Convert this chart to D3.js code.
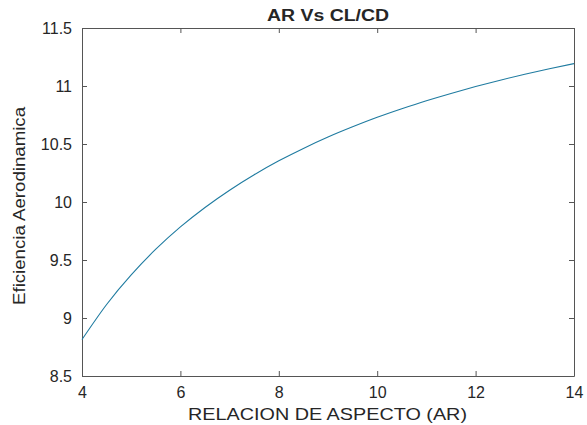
<!DOCTYPE html>
<html>
<head>
<meta charset="utf-8">
<script src="https://cdn.jsdelivr.net/npm/d3@7"></script>
<style>
  body { margin: 0; background: #fff; }
  text { font-family: "Liberation Sans", Arial, sans-serif; fill: #262626; }
</style>
</head>
<body>
<div class="canvas"></div>
<script>
// aspect ratio values and the efficiency
const aspectRatio = [4, 4.5, 5, 5.5, 6, 6.5, 7, 7.5, 8, 8.5, 9, 9.5, 10, 10.5, 11, 11.5, 12, 12.5, 13, 13.5, 14]
const efficiency = [8.814, 9.116, 9.372, 9.593, 9.785, 9.953, 10.102, 10.235, 10.355, 10.462, 10.560, 10.648, 10.730, 10.804, 10.873, 10.936, 10.995, 11.050, 11.101, 11.148, 11.193]

const xTicks = [4, 6, 8, 10, 12, 14]
const yTicks = [8.5, 9, 9.5, 10, 10.5, 11, 11.5]

const dims = { width: 587, height: 425 }
const margin = { top: 28, right: 13, bottom: 49, left: 82 }
const w = dims.width - margin.left - margin.right
const h = dims.height - margin.top - margin.bottom

const svg = d3.select('.canvas')
  .append('svg')
  .attr('width', dims.width)
  .attr('height', dims.height)

const graph = svg.append('g')
  .attr('transform', `translate(${margin.left}, ${margin.top})`)

const x = d3.scaleLinear().domain([4, 14]).range([0, w])
const y = d3.scaleLinear().domain([8.5, 11.5]).range([h, 0])

const axisColor = '#555'

// axes (ticks pointing inward, like matlab)
const xAxis = graph.append('g')
  .attr('transform', `translate(0, ${h})`)
  .call(d3.axisBottom(x).tickValues(xTicks).tickSizeInner(-5).tickSizeOuter(0).tickPadding(11).tickFormat(d3.format('')))
const yAxis = graph.append('g')
  .call(d3.axisLeft(y).tickValues(yTicks).tickSizeInner(-5).tickSizeOuter(0).tickPadding(10).tickFormat(d3.format('')))
const xTop = graph.append('g')
  .call(d3.axisTop(x).tickValues(xTicks).tickSizeInner(-5).tickSizeOuter(0).tickFormat(''))
const yRight = graph.append('g')
  .attr('transform', `translate(${w}, 0)`)
  .call(d3.axisRight(y).tickValues(yTicks).tickSizeInner(-5).tickSizeOuter(0).tickFormat(''))

;[xAxis, yAxis, xTop, yRight].forEach(ax => {
  ax.select('.domain').attr('stroke', axisColor)
  ax.selectAll('line').attr('stroke', axisColor)
  ax.selectAll('text')
    .attr('font-size', 16)
    .attr('font-family', '"Liberation Sans", Arial, sans-serif')
    .attr('fill', '#262626')
})
xAxis.selectAll('text').attr('dy', '0.71em')
yAxis.selectAll('text').attr('dy', '0.35em')

// curve
graph.append('path')
  .datum(aspectRatio.map((a, i) => [a, efficiency[i]]))
  .attr('fill', 'none')
  .attr('stroke', '#1f7ba0')
  .attr('stroke-width', 1.1)
  .attr('d', d3.line()
    .x(d => x(d[0]))
    .y(d => y(d[1]))
    .curve(d3.curveNatural)
  )

// title and labels
svg.append('text')
  .attr('x', margin.left + w / 2)
  .attr('y', 21)
  .attr('text-anchor', 'middle')
  .attr('font-size', 16)
  .attr('font-weight', 'bold')
  .attr('fill', '#000')
  .attr('textLength', 122)
  .attr('lengthAdjust', 'spacingAndGlyphs')
  .text('AR Vs CL/CD')

svg.append('text')
  .attr('x', 327.5)
  .attr('y', 420)
  .attr('text-anchor', 'middle')
  .attr('font-size', 17)
  .attr('textLength', 279)
  .attr('lengthAdjust', 'spacingAndGlyphs')
  .text('RELACION DE ASPECTO (AR)')

svg.append('text')
  .attr('transform', 'translate(25, 206) rotate(-90)')
  .attr('text-anchor', 'middle')
  .attr('font-size', 16)
  .attr('textLength', 198)
  .attr('lengthAdjust', 'spacingAndGlyphs')
  .text('Eficiencia Aerodinamica')
</script>
</body>
</html>
